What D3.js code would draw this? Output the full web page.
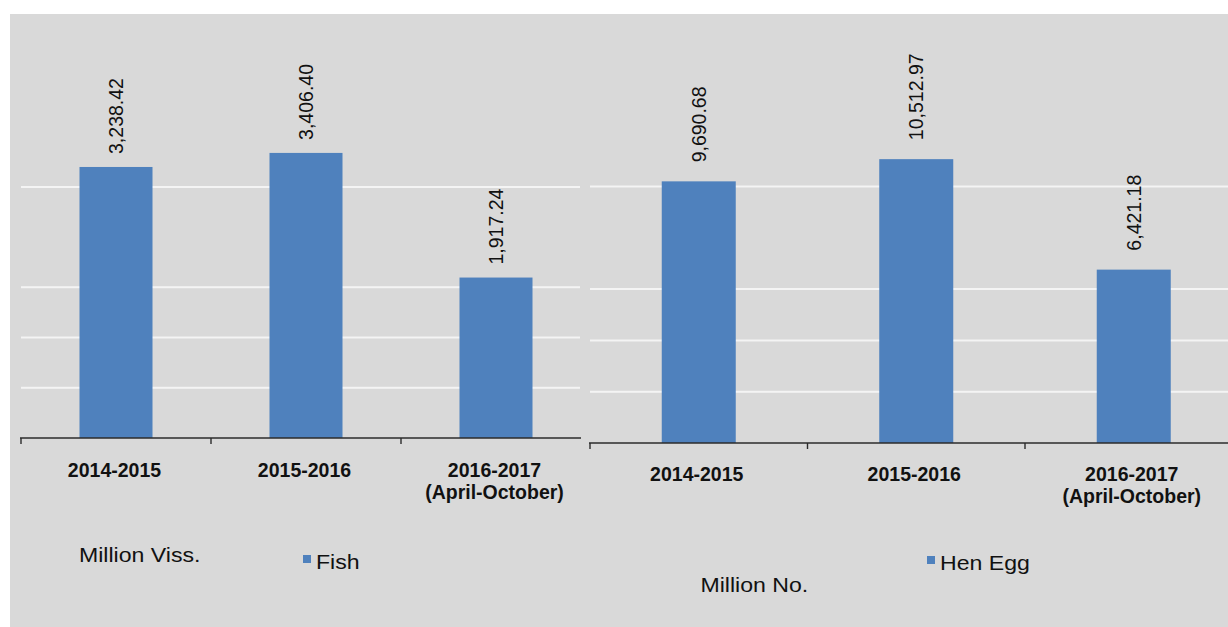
<!DOCTYPE html>
<html>
<head>
<meta charset="utf-8">
<script src="https://cdn.jsdelivr.net/npm/d3@7"></script>
<style>
  html, body { margin: 0; padding: 0; background: #ffffff; }
  svg { display: block; }
  text { font-family: "Liberation Sans", Arial, sans-serif; fill: #111; }
</style>
</head>
<body>
<svg id="chart" width="1228" height="627"></svg>
<script>
// ---- data ----
const categories = ["2014-2015", "2015-2016", "2016-2017 (April-October)"];
const categoryLines = [["2014-2015"], ["2015-2016"], ["2016-2017", "(April-October)"]];
const fishValues = [3238.42, 3406.40, 1917.24];
const eggValues = [9690.68, 10512.97, 6421.18];
const fishGridValues = [600, 1200, 1800, 3000];
const eggGridValues = [1900, 3800, 5700, 9500];
const fishUnit = "Million Viss.";
const eggUnit = "Million No.";
const fishSeries = "Fish";
const eggSeries = "Hen Egg";

const fmt = d3.format(",.2f");
const svg = d3.select("#chart");
const BAR = "#4f81bd";

// background
svg.append("rect").attr("x", 10).attr("y", 14).attr("width", 1218).attr("height", 613).attr("fill", "#d9d9d9");

function panel(cfg) {
  const x = d3.scaleBand().domain(categories).range(cfg.xRange).padding(0);
  const y = d3.scaleLinear().domain(cfg.yDomain).range(cfg.yRange);
  const g = svg.append("g");

  // gridlines
  g.selectAll("line.grid").data(cfg.grid).enter().append("line")
    .attr("x1", cfg.gridX[0]).attr("x2", cfg.gridX[1])
    .attr("y1", d => y(d)).attr("y2", d => y(d))
    .attr("stroke", "#f4f4f4").attr("stroke-width", 2);

  // bars
  g.selectAll("rect.bar").data(cfg.values).enter().append("rect")
    .attr("x", (d, i) => x(categories[i]) + (x.bandwidth() - cfg.barW) / 2)
    .attr("width", cfg.barW)
    .attr("y", d => y(d))
    .attr("height", d => y(0) - y(d))
    .attr("fill", BAR);

  // axis line + ticks
  const y0 = y(0);
  g.append("line").attr("x1", cfg.axisX[0]).attr("x2", cfg.axisX[1])
    .attr("y1", y0).attr("y2", y0).attr("stroke", "#2b2b2b").attr("stroke-width", 1.6);
  g.selectAll("line.tick").data(categories).enter().append("line")
    .attr("x1", d => x(d)).attr("x2", d => x(d))
    .attr("y1", y0).attr("y2", y0 + 6)
    .attr("stroke", "#2b2b2b").attr("stroke-width", 1.4);

  // value labels
  g.selectAll("text.val").data(cfg.values).enter().append("text")
    .attr("transform", (d, i) => `translate(${x(categories[i]) + x.bandwidth() / 2},${y(d) - cfg.labelGap}) rotate(-90)`)
    .attr("dy", "0.36em")
    .attr("text-anchor", "start")
    .style("font-size", "19.5px")
    .text(d => fmt(d));

  // category labels
  categoryLines.forEach((lines, i) => {
    lines.forEach((ln, j) => {
      g.append("text")
        .attr("x", x(categories[i]) + x.bandwidth() / 2 - cfg.catShift)
        .attr("y", cfg.catY + j * 22)
        .attr("text-anchor", "middle")
        .style("font-size", "19.5px").style("font-weight", "bold")
        .text(ln);
    });
  });

  // unit label
  g.append("text")
    .attr("transform", `translate(${cfg.unitPos[0]},${cfg.unitPos[1]}) scale(1.1,1)`)
    .style("font-size", "21px")
    .text(cfg.unit);

  // legend
  g.append("rect").attr("x", cfg.legPos[0]).attr("y", cfg.legPos[1])
    .attr("width", 8).attr("height", 8).attr("fill", BAR);
  g.append("text")
    .attr("transform", `translate(${cfg.legPos[0] + 13},${cfg.legPos[1] + 14}) scale(1.1,1)`)
    .style("font-size", "21px")
    .text(cfg.series);
}

panel({
  xRange: [21, 591], yDomain: [0, 4200], yRange: [438, 86.5],
  grid: fishGridValues, gridX: [21, 580], axisX: [20, 581],
  values: fishValues, barW: 73, labelGap: 13, catY: 476.5, catShift: 1.5,
  unit: fishUnit, unitPos: [79, 561.7], series: fishSeries, legPos: [303, 555]
});

panel({
  xRange: [590, 1242.5], yDomain: [0, 12000], yRange: [443, 119],
  grid: eggGridValues, gridX: [590, 1228], axisX: [589, 1228],
  values: eggValues, barW: 74, labelGap: 19, catY: 481, catShift: 2,
  unit: eggUnit, unitPos: [700.5, 591.7], series: eggSeries, legPos: [927, 556]
});
</script>
</body>
</html>
